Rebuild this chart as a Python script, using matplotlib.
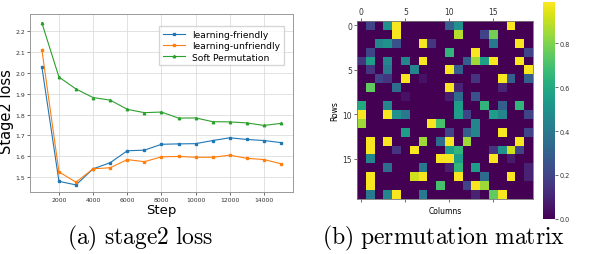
import numpy as np
import matplotlib
matplotlib.use('Agg')
from matplotlib import pyplot as plt

plt.rcParams['mathtext.fontset'] = 'cm'

# stage2 loss curves
steps = [1000, 2000, 3000, 4000, 5000, 6000, 7000, 8000, 9000, 10000, 11000, 12000, 13000, 14000, 15000]
friendly = [2.028, 1.481, 1.464, 1.541, 1.570, 1.627, 1.630, 1.658, 1.660, 1.661, 1.676, 1.689, 1.681, 1.676, 1.666]
unfriendly = [2.110, 1.526, 1.477, 1.541, 1.546, 1.585, 1.575, 1.598, 1.600, 1.596, 1.596, 1.606, 1.591, 1.585, 1.565]
soft_perm = [2.238, 1.979, 1.922, 1.881, 1.869, 1.825, 1.809, 1.812, 1.783, 1.784, 1.766, 1.765, 1.760, 1.748, 1.758]

# permutation matrix, nonzero cells as (row, col, value)
perm_cells = [
    (0, 1, 0.2), (0, 3, 0.5), (0, 4, 0.98), (0, 10, 0.3), (0, 11, 0.5), (0, 17, 0.98),
    (1, 4, 0.98), (1, 11, 0.88), (1, 14, 0.2), (1, 15, 0.78),
    (2, 2, 0.45), (2, 3, 0.5), (2, 4, 0.25), (2, 7, 0.98), (2, 8, 0.15), (2, 15, 0.4), (2, 18, 0.98),
    (3, 1, 0.2), (3, 10, 0.65), (3, 13, 0.98), (3, 19, 0.2),
    (4, 0, 0.15), (4, 1, 0.55), (4, 3, 0.45), (4, 5, 0.45), (4, 7, 0.98), (4, 12, 0.3), (4, 13, 0.85),
    (4, 14, 0.55), (4, 15, 0.98), (4, 18, 0.98),
    (5, 1, 0.15), (5, 3, 0.4), (5, 6, 0.45), (5, 10, 0.98), (5, 11, 0.3), (5, 19, 0.98),
    (6, 2, 0.2), (6, 3, 0.15), (6, 5, 0.98), (6, 7, 0.05), (6, 13, 0.15), (6, 16, 0.98), (6, 17, 0.3), (6, 19, 0.3),
    (7, 1, 0.75), (7, 4, 0.35), (7, 10, 0.98), (7, 11, 0.1), (7, 16, 0.1),
    (8, 5, 0.05), (8, 10, 0.08), (8, 11, 0.35), (8, 13, 0.25),
    (9, 0, 0.6), (9, 3, 0.45), (9, 11, 0.55), (9, 14, 0.65), (9, 16, 0.3), (9, 18, 0.65),
    (10, 0, 0.98), (10, 3, 0.98), (10, 4, 0.5), (10, 5, 0.4), (10, 11, 0.55), (10, 12, 0.2),
    (10, 15, 0.55), (10, 16, 0.45), (10, 19, 0.2),
    (11, 0, 0.85), (11, 8, 0.98), (11, 9, 0.7), (11, 13, 0.45),
    (12, 5, 0.55), (12, 10, 0.2), (12, 12, 0.3), (12, 13, 0.45), (12, 16, 0.98), (12, 19, 0.2),
    (13, 1, 0.98), (13, 3, 0.98), (13, 7, 0.85), (13, 9, 0.35), (13, 10, 0.98), (13, 12, 0.85), (13, 18, 0.98),
    (14, 1, 0.98), (14, 4, 0.15), (14, 6, 0.98), (14, 10, 0.55), (14, 11, 0.65), (14, 15, 0.15),
    (14, 16, 0.5), (14, 17, 0.92), (14, 18, 0.2),
    (15, 1, 0.45), (15, 9, 0.98), (15, 10, 0.98), (15, 11, 0.55), (15, 15, 0.98), (15, 17, 0.07),
    (16, 3, 0.35), (16, 7, 0.4), (16, 10, 0.08), (16, 11, 0.65), (16, 13, 0.55), (16, 19, 0.1),
    (17, 1, 0.98), (17, 6, 0.92), (17, 7, 0.98), (17, 11, 0.98), (17, 14, 0.35), (17, 17, 0.98), (17, 19, 0.1),
    (18, 1, 0.98), (18, 9, 0.7), (18, 12, 0.2), (18, 13, 0.98), (18, 14, 0.85),
    (19, 1, 0.4), (19, 3, 0.45), (19, 4, 0.98), (19, 7, 0.4), (19, 13, 0.1), (19, 15, 0.75), (19, 16, 0.98),
]

perm = np.zeros((20, 20))
for r, c, v in perm_cells:
    perm[r, c] = v

fig = plt.figure(figsize=(5.98, 2.55), dpi=100)

# (a) loss curves
ax = fig.add_axes([0.05, 0.243, 0.44, 0.698])
ax.plot(steps, friendly, color='#1f77b4', marker='s', ms=1.6, lw=0.8, label='learning-friendly')
ax.plot(steps, unfriendly, color='#ff7f0e', marker='s', ms=1.6, lw=0.8, label='learning-unfriendly')
ax.plot(steps, soft_perm, color='#2ca02c', marker='^', ms=1.8, lw=0.8, label='Soft Permutation')
ax.set_xticks([2000, 4000, 6000, 8000, 10000, 12000, 14000])
ax.set_yticks([1.5, 1.6, 1.7, 1.8, 1.9, 2.0, 2.1, 2.2])
ax.set_ylim(1.43, 2.28)
ax.tick_params(labelsize=4.4, length=2, width=0.5, pad=1.5, colors='#333333')
ax.grid(True, color='#dddddd', lw=0.6)
for s in ax.spines.values():
    s.set_color('#999999')
    s.set_linewidth(0.7)
ax.set_xlabel('Step', fontsize=9.5, labelpad=1)
ax.set_ylabel('Stage2 loss', fontsize=10.5)
ax.yaxis.set_label_coords(-0.062, 0.46)
ax.legend(fontsize=6.6, loc='upper right', bbox_to_anchor=(0.983, 0.957), frameon=True,
          handlelength=2.4, borderpad=0.4, labelspacing=0.25, fancybox=False, edgecolor='#cccccc')

# (b) permutation matrix
ax2 = fig.add_axes([0.597, 0.216, 0.294, 0.698])
im = ax2.imshow(perm, cmap='viridis', vmin=0, vmax=0.99, aspect='auto', interpolation='nearest')
ax2.xaxis.tick_top()
ax2.tick_params(axis='x', bottom=True, labelbottom=False, top=True, labeltop=True)
ax2.set_xticks([0, 5, 10, 15])
ax2.set_yticks([0, 5, 10, 15])
ax2.tick_params(labelsize=5.5, length=2, width=0.5, pad=1.5, colors='#333333')
ax2.set_xlabel('Columns', fontsize=5.5, labelpad=3)
ax2.xaxis.set_label_position('bottom')
ax2.set_ylabel('Rows', fontsize=5.5, labelpad=2)
for s in ax2.spines.values():
    s.set_color('#777777')
    s.set_linewidth(0.6)

cax = fig.add_axes([0.908, 0.138, 0.02, 0.852])
cb = fig.colorbar(im, cax=cax, ticks=[0.0, 0.2, 0.4, 0.6, 0.8])
cb.ax.tick_params(labelsize=4.7, length=2, width=0.5, pad=1.5, colors='#333333')
cb.outline.set_visible(False)

fig.text(0.234, 0.063, r'$\mathrm{(a)\ stage2\ loss}$', fontsize=17, ha='center', va='center')
fig.text(0.741, 0.063, r'$\mathrm{(b)\ permutation\ matrix}$', fontsize=17, ha='center', va='center')

plt.savefig('out.png', dpi=100)
